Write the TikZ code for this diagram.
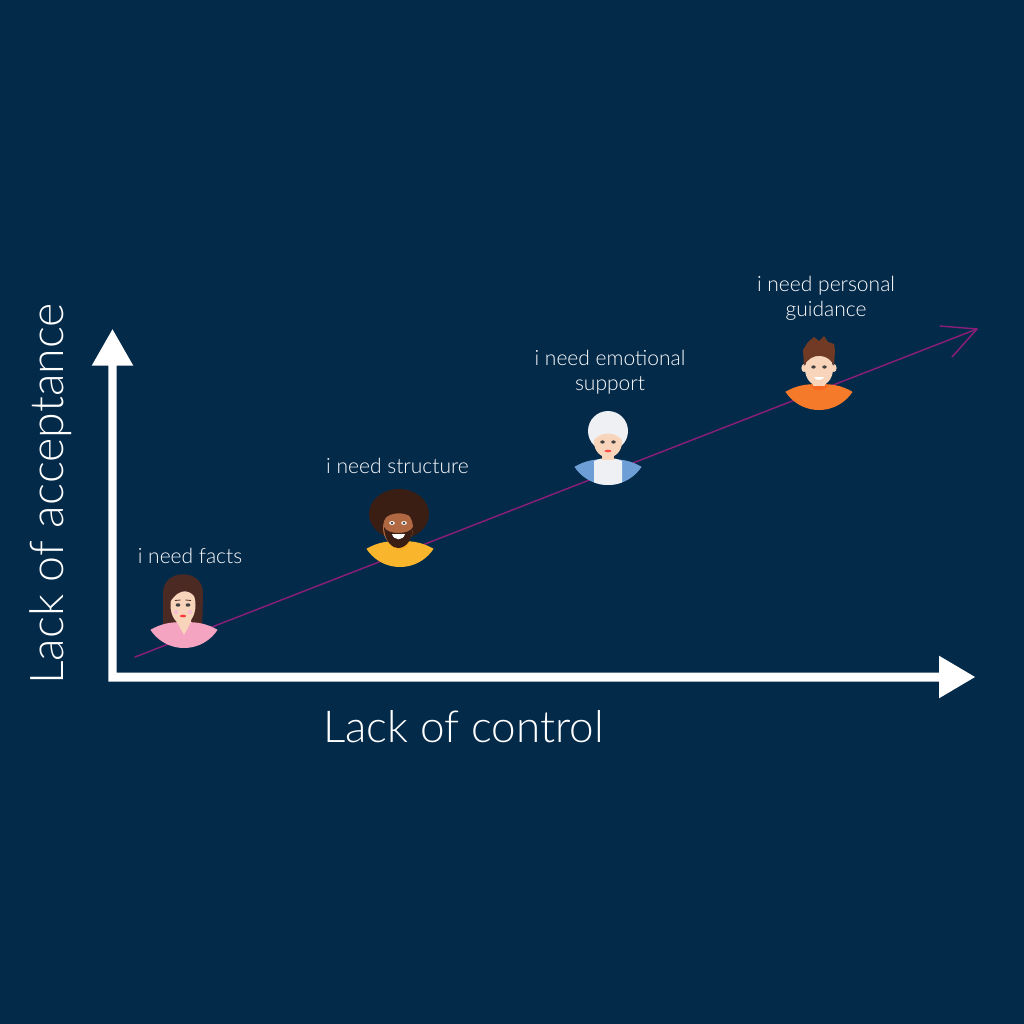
\documentclass[tikz,border=0pt]{standalone}
\usepackage{fontspec}
\setmainfont{Lato}[UprightFont=* Light]
\definecolor{bgblue}{RGB}{4,42,74}
\definecolor{trendpurple}{RGB}{140,30,122}
\definecolor{skinlight}{RGB}{248,212,186}
\definecolor{skindark}{RGB}{176,104,66}
\definecolor{hairbrown}{RGB}{76,42,36}
\definecolor{hairafro}{RGB}{58,30,20}
\definecolor{hairred}{RGB}{112,58,36}
\definecolor{hairwhite}{RGB}{238,240,244}
\definecolor{shirtpink}{RGB}{244,164,192}
\definecolor{shirtyellow}{RGB}{249,181,44}
\definecolor{shirtblue}{RGB}{110,158,214}
\definecolor{shirtorange}{RGB}{245,122,42}
\begin{document}
\begin{tikzpicture}[x=1pt,y=-1pt,
  label/.style={text=white,font=\fontsize{21}{25}\selectfont,align=center,inner sep=0pt},
  axislabel/.style={text=white,font=\fontsize{44}{50}\selectfont,inner sep=0pt,anchor=base},
  trend/.style={trendpurple,line width=1.4pt,line cap=round,line join=round},
  eye/.style={fill=black!75}]
 \useasboundingbox (0,0) rectangle (1024,1024);
 \fill[bgblue](0,0) rectangle (1024,1024);
 % axes
 \fill[white](108.3,365)--(116.7,365)--(116.7,672.7)--(940,672.7)--(940,681.7)--(108.3,681.7)--cycle;
 \fill[white](91.7,365.7)--(112.5,329.3)--(133.3,365.7)--cycle;
 \fill[white](939,655.7)--(975,677)--(939,698.3)--cycle;
 \node[axislabel,rotate=90,font=\fontsize{46.5}{50}\selectfont] (acceptance) at (63.5,494) {Lack of acceptance};
 \node[axislabel] (control) at (463.5,742.3) {Lack of control};
 % trend line
 \coordinate (trendstart) at (135,657);
 \coordinate (trendend) at (977,329);
 \draw[trend](trendstart)--(trendend);
 \draw[trend](940,326)--(trendend)--(952,357);
 % facts
 \begin{scope}[shift={(184,648)}]
  \fill[hairbrown](-21,-10)--(-21,-55) .. controls (-21,-80) and (19,-80) .. (19,-55)--(18,-10)--cycle;
  \begin{scope}
   \clip (0,-40) circle (40);
   \fill[shirtpink](-40,0)--(-40,-14) .. controls (-26,-24) and (-16,-26) .. (0,-26) .. controls (16,-26) and (26,-24) .. (40,-14)--(40,0)--cycle;
  \end{scope}
  \fill[skinlight](-7,-34)--(7,-34)--(7,-26)--(0,-13)--(-7,-26)--cycle;
  \fill[skinlight](-1,-43) ellipse (12.5 and 19.5);
  \fill[hairbrown](-14,-46) .. controls (-15,-70) and (12,-72) .. (13,-48) .. controls (8,-58) and (-4,-62) .. (-14,-46)--cycle;
  \fill[eye](-6,-43) ellipse (2.4 and 1.7);
  \fill[eye](4,-43) ellipse (2.4 and 1.7);
  \draw[hairbrown,line width=0.8pt](-9,-47.5)--(-3.5,-48);
  \draw[hairbrown,line width=0.8pt](1.5,-48)--(7,-47.5);
  \fill[red!70!pink](-1,-32) ellipse (3.2 and 1.3);
  \fill[shirtpink!70](-8,-36) circle (2.2);
  \fill[shirtpink!70](6,-36) circle (2.2);
 \end{scope}
 % structure
 \begin{scope}[shift={(400,567)}]
  \fill[hairafro](-1,-53) ellipse (30 and 25);
  \begin{scope}
   \clip (0,-40) circle (40);
   \fill[shirtyellow](-40,0)--(-40,-14) .. controls (-26,-24) and (-16,-26) .. (0,-26) .. controls (16,-26) and (26,-24) .. (40,-14)--(40,0)--cycle;
   \fill[shirtyellow!80!orange](-10,-25) .. controls (-5,-15) and (5,-15) .. (10,-25)--cycle;
  \end{scope}
  \fill[skindark](-6,-32) rectangle (6,-23);
  \fill[skindark](-2,-39) ellipse (15 and 18.5);
  \fill[hairafro](-16,-47) .. controls (-14,-63) and (10,-65) .. (13,-47) .. controls (10,-56) and (-12,-56) .. (-16,-47)--cycle;
  \fill[hairafro](-16,-40) .. controls (-15,-24) and (-7,-19) .. (-2,-19) .. controls (4,-19) and (12,-24) .. (13,-40) .. controls (10,-32) and (-13,-32) .. (-16,-40)--cycle;
  \fill[white](-8,-33) .. controls (-6,-26) and (3,-26) .. (5,-33)--cycle;
  \fill[white](-8,-44) ellipse (2.8 and 1.9);
  \fill[white](4,-44) ellipse (2.8 and 1.9);
  \fill[eye](-8,-44) circle (1.4);
  \fill[eye](4,-44) circle (1.4);
 \end{scope}
 % emotional support
 \begin{scope}[shift={(608,485)}]
  \fill[hairwhite](0,-54) ellipse (20 and 20);
  \begin{scope}
   \clip (0,-40) circle (40);
   \fill[shirtblue](-40,0)--(-40,-14) .. controls (-26,-24) and (-16,-26) .. (0,-26) .. controls (16,-26) and (26,-24) .. (40,-14)--(40,0)--cycle;
   \fill[hairwhite](-14,0)--(-14,-24) .. controls (-6,-28) and (6,-28) .. (14,-24)--(14,0)--cycle;
  \end{scope}
  \fill[skinlight](-6,-34) rectangle (6,-25);
  \fill[skinlight](0,-43) ellipse (14 and 15.5);
  \fill[hairwhite](-15,-44) .. controls (-14,-64) and (14,-64) .. (15,-44) .. controls (8,-54) and (-8,-54) .. (-15,-44)--cycle;
  \fill[eye](-5.5,-43) ellipse (2.2 and 1.6);
  \fill[eye](5.5,-43) ellipse (2.2 and 1.6);
  \fill[red!60!pink](0,-34) ellipse (3.4 and 1.3);
 \end{scope}
 % personal guidance
 \begin{scope}[shift={(819,410)}]
  \begin{scope}
   \clip (0,-40) circle (40);
   \fill[shirtorange](-40,0)--(-40,-14) .. controls (-26,-24) and (-16,-26) .. (0,-26) .. controls (16,-26) and (26,-24) .. (40,-14)--(40,0)--cycle;
   \fill[shirtorange!85!red](-9,-25) .. controls (-5,-18) and (5,-18) .. (9,-25)--cycle;
  \end{scope}
  \fill[skinlight](-6,-32) rectangle (6,-24);
  \fill[skinlight](-15,-42) ellipse (2.6 and 4);
  \fill[skinlight](15,-42) ellipse (2.6 and 4);
  \fill[skinlight](0,-41) ellipse (14 and 17);
  \fill[hairred](-15,-44)--(-16,-60)--(-11,-68)--(-5,-73)--(0,-69)--(5,-74)--(9,-68)--(15,-66)--(16,-60)--(15,-44) .. controls (11,-56) and (-8,-59) .. (-15,-44)--cycle;
  \fill[eye](-5.5,-43) ellipse (2.2 and 1.6);
  \fill[eye](5.5,-43) ellipse (2.2 and 1.6);
  \fill[white](-5,-33) .. controls (-3,-29) and (3,-29) .. (5,-33)--cycle;
 \end{scope}
 % labels
 \node[label] (facts) at (190,556) {i need facts};
 \node[label] (structure) at (397.5,466) {i need structure};
 \node[label] (emotional) at (610,372) {i need emotional\\support};
 \node[label] (guidance) at (826,298.5) {i need personal\\guidance};
\end{tikzpicture}
\end{document}
